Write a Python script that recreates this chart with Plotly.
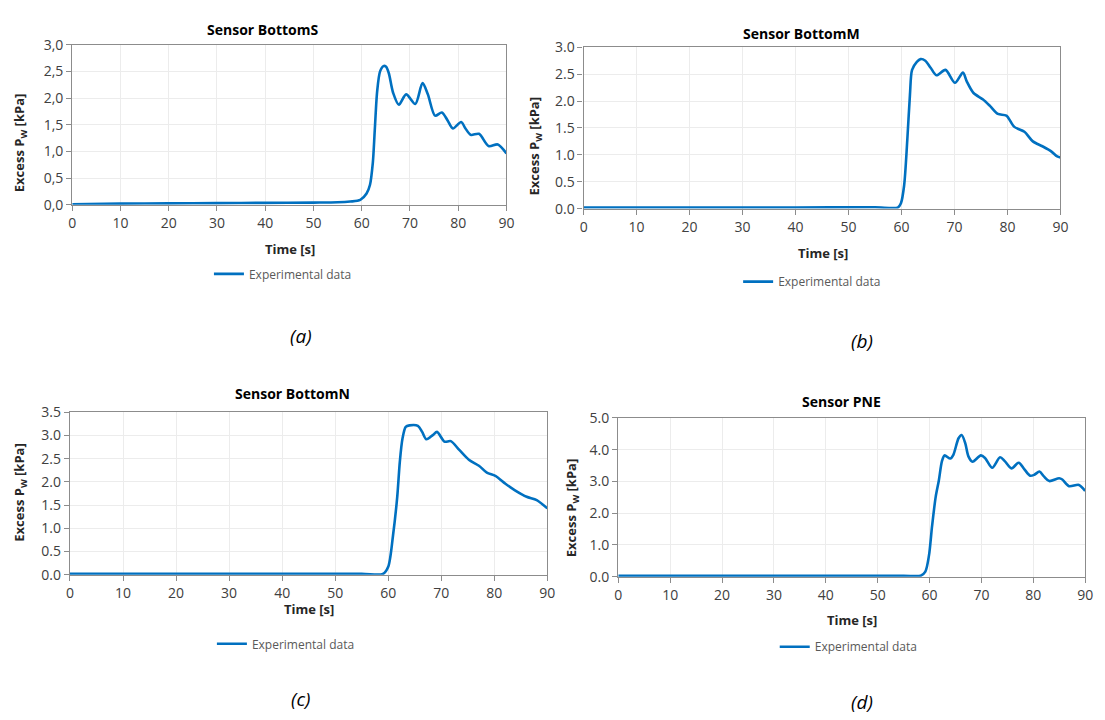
import plotly.graph_objects as go

# ---------------- data ----------------
t_a = [0, 10, 20, 30, 40, 50, 55, 57.6, 59.7, 61.0, 61.7, 62.3, 62.7, 63.2, 63.8, 64.5, 65.0, 65.6, 66.5, 67.7,
       69.2, 71.1, 72.6, 73.7, 75.2, 76.6, 77.8, 78.9, 80.6, 81.5, 82.6, 84.3, 86.3, 88.2, 90]
p_a = [0.01, 0.02, 0.025, 0.03, 0.035, 0.04, 0.045, 0.06, 0.09, 0.21, 0.37, 0.79, 1.40, 2.13, 2.50, 2.60, 2.59, 2.47, 2.10, 1.875,
       2.07, 1.89, 2.28, 2.07, 1.67, 1.73, 1.58, 1.43, 1.55, 1.43, 1.31, 1.33, 1.10, 1.13, 0.96]

t_b = [0, 20, 40, 55, 59.3, 59.9, 60.5, 61.1, 61.6, 62.0, 62.9, 63.6, 64.5, 65.5, 66.6, 68.3, 70.1, 71.6, 72.3,
       73.6, 75.4, 76.7, 78.2, 79.8, 81.3, 83.2, 84.8, 86.6, 88.2, 89.4, 90]
p_b = [0.02, 0.02, 0.02, 0.025, 0.02, 0.10, 0.43, 1.28, 2.12, 2.58, 2.73, 2.78, 2.75, 2.62, 2.48, 2.58, 2.34, 2.53, 2.37,
       2.15, 2.03, 1.91, 1.76, 1.73, 1.52, 1.43, 1.25, 1.16, 1.07, 0.97, 0.95]

t_c = [0, 20, 40, 55, 59.0, 60.0, 60.9, 61.7, 62.2, 62.7, 63.3, 64.0, 65.6, 66.4, 67.2, 68.4, 69.2, 70.6, 71.8,
       73.4, 75.2, 77.1, 78.6, 80.2, 82.1, 83.9, 86.1, 88.0, 90]
p_c = [0.02, 0.02, 0.02, 0.02, 0.015, 0.17, 0.84, 1.68, 2.45, 2.94, 3.19, 3.22, 3.21, 3.08, 2.92, 3.01, 3.08, 2.87, 2.88,
       2.69, 2.48, 2.35, 2.20, 2.13, 1.96, 1.82, 1.68, 1.61, 1.43]

t_d = [0, 20, 40, 55, 58.3, 59.2, 59.9, 60.5, 61.2, 61.8, 62.4, 62.9, 64.0, 64.6, 65.6, 66.2, 66.9, 67.5, 68.3,
       69.9, 70.7, 72.1, 73.6, 74.5, 75.8, 77.2, 78.3, 79.4, 80.2, 81.2, 82.1, 83.1, 85.0, 85.6, 86.9, 88.8, 90]
p_d = [0.03, 0.03, 0.03, 0.03, 0.03, 0.16, 0.67, 1.60, 2.52, 3.03, 3.64, 3.82, 3.72, 3.84, 4.36, 4.46, 4.20, 3.79, 3.62,
       3.82, 3.74, 3.43, 3.76, 3.64, 3.41, 3.59, 3.38, 3.18, 3.21, 3.31, 3.15, 3.01, 3.10, 3.06, 2.85, 2.89, 2.70]

titles = ["Sensor BottomS", "Sensor BottomM", "Sensor BottomN", "Sensor PNE"]
panel_labels = ["(a)", "(b)", "(c)", "(d)"]
x_ticks = [0, 10, 20, 30, 40, 50, 60, 70, 80, 90]
y_ticks_a = [0.0, 0.5, 1.0, 1.5, 2.0, 2.5, 3.0]
y_ticktext_a = ["0,0", "0,5", "1,0", "1,5", "2,0", "2,5", "3,0"]
y_ticks_b = [0.0, 0.5, 1.0, 1.5, 2.0, 2.5, 3.0]
y_ticks_c = [0.0, 0.5, 1.0, 1.5, 2.0, 2.5, 3.0, 3.5]
y_ticks_d = [0.0, 1.0, 2.0, 3.0, 4.0, 5.0]
series_name = "Experimental data"

# ---------------- layout helpers ----------------
W, H = 1105, 720
def px(x):
    return x / W
def py(y):
    return 1 - y / H

FONT = "Open Sans, Lato, DejaVu Sans, sans-serif"
LINE_COLOR = "#0070C0"
AXIS_COLOR = "#8c8c8c"
GRID_COLOR = "#ececec"
TEXT_COLOR = "#404040"

# pixel boxes of each plot area: (left, right, top, bottom)
boxes = [(69, 508, 35.7, 200), (586, 1068, 38.3, 204), (66.7, 549.3, 413.3, 580), (621, 1093, 419, 582)]
yranges = [3.0, 3.0, 3.5, 5.0]
yticks = [y_ticks_a, y_ticks_b, y_ticks_c, y_ticks_d]
yticktexts = [y_ticktext_a, ["%.1f" % v for v in y_ticks_b], ["%.1f" % v for v in y_ticks_c],
              ["%.1f" % v for v in y_ticks_d]]
data = [(t_a, p_a), (t_b, p_b), (t_c, p_c), (t_d, p_d)]

# annotation pixel positions
title_pos = [(261, 20), (806, 24), (292, 394), (847, 402)]
xtitle_pos = [(289, 245), (828, 250), (308, 615), (857, 627)]
ytitle_pos = [(17, 137), (537, 140), (16, 496), (575, 512)]
legend_pos = [(282, 271), (817, 279), (285, 651), (854, 654)]
label_pos = [(300, 335), (867, 340), (300, 708), (867, 711)]

fig = go.Figure()
layout = dict(
    width=W, height=H, margin=dict(l=0, r=0, t=0, b=0),
    paper_bgcolor="white", plot_bgcolor="white",
    font=dict(family=FONT, color=TEXT_COLOR),
    showlegend=True,
)
annotations = []

for i in range(4):
    sfx = "" if i == 0 else str(i + 1)
    l, r, t, b = boxes[i]
    t_vals, p_vals = data[i]
    fig.add_trace(go.Scatter(
        x=t_vals, y=p_vals, mode="lines", name=series_name,
        line=dict(color=LINE_COLOR, width=2.6, shape="spline", smoothing=0.8),
        xaxis="x" + sfx, yaxis="y" + sfx, legend="legend" + sfx,
        hoverinfo="x+y",
    ))
    layout["xaxis" + sfx] = dict(
        domain=[px(l), px(r)], anchor="y" + sfx, range=[0, 90],
        tickvals=x_ticks, ticks="outside", ticklen=5, tickcolor=AXIS_COLOR,
        showline=True, linecolor=AXIS_COLOR, linewidth=1.3, mirror=True,
        showgrid=True, gridcolor=GRID_COLOR, zeroline=False,
        tickfont=dict(size=14, color=TEXT_COLOR, family=FONT),
    )
    layout["yaxis" + sfx] = dict(
        domain=[py(b), py(t)], anchor="x" + sfx, range=[0, yranges[i]],
        tickvals=yticks[i], ticktext=yticktexts[i], ticks="outside", ticklen=5, tickcolor=AXIS_COLOR,
        showline=True, linecolor=AXIS_COLOR, linewidth=1.3, mirror=True,
        showgrid=True, gridcolor=GRID_COLOR, zeroline=False,
        tickfont=dict(size=14, color=TEXT_COLOR, family=FONT),
    )
    lx, ly = legend_pos[i]
    layout["legend" + sfx] = dict(
        x=px(lx), y=py(ly), xanchor="center", yanchor="middle",
        bgcolor="rgba(0,0,0,0)", font=dict(size=12, color="#595959", family=FONT),
        itemwidth=30, tracegroupgap=0,
    )
    tx, ty = title_pos[i]
    annotations.append(dict(text="<b>%s</b>" % titles[i], x=px(tx), y=py(ty), xref="paper", yref="paper",
                            showarrow=False, font=dict(size=14, color="#000000", family=FONT),
                            xanchor="center", yanchor="middle"))
    xx, xy = xtitle_pos[i]
    annotations.append(dict(text="<b>Time [s]</b>", x=px(xx), y=py(xy), xref="paper", yref="paper",
                            showarrow=False, font=dict(size=13, color="#262626", family=FONT),
                            xanchor="center", yanchor="middle"))
    yx, yy = ytitle_pos[i]
    annotations.append(dict(text="<b>Excess P<sub>W</sub> [kPa]</b>", x=px(yx), y=py(yy), xref="paper", yref="paper",
                            showarrow=False, textangle=-90, font=dict(size=13, color="#262626", family=FONT),
                            xanchor="center", yanchor="middle"))
    ax, ay = label_pos[i]
    annotations.append(dict(text="<i>%s</i>" % panel_labels[i], x=px(ax), y=py(ay), xref="paper", yref="paper",
                            showarrow=False, font=dict(size=19, color="#000000", family=FONT),
                            xanchor="center", yanchor="middle"))

layout["annotations"] = annotations
fig.update_layout(**layout)
fig.write_html("out.html")
